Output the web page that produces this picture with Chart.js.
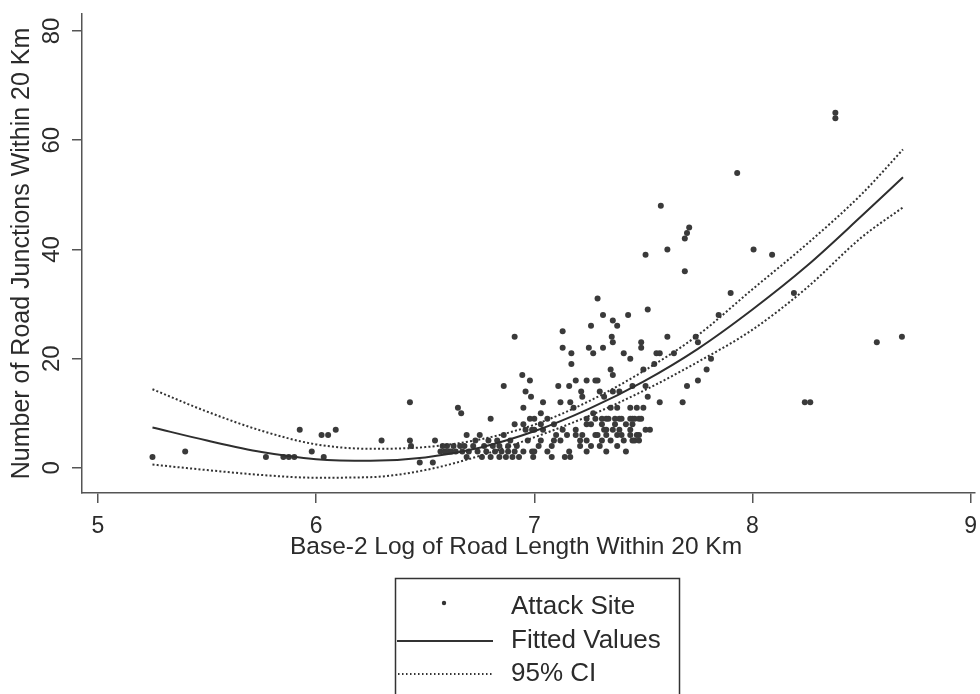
<!DOCTYPE html>
<html>
<head>
<meta charset="utf-8">
<title>Road junctions vs road length</title>
<script src="https://cdn.jsdelivr.net/npm/chart.js@4.4.1/dist/chart.umd.min.js"></script>
<style>
  html, body { margin: 0; padding: 0; background: #fff; }
  #wrap { width: 980px; height: 694px; }
</style>
</head>
<body>
<div id="wrap"><canvas id="junctions-chart" width="980" height="694"></canvas></div>
<script>
const FONT = '"Liberation Sans", Arial, Helvetica, sans-serif';
const INK = '#2b2b2b';

const xTicks = [5, 6, 7, 8, 9];
const yTicks = [0, 20, 40, 60, 80];
const xTitle = 'Base-2 Log of Road Length Within 20 Km';
const yTitle = 'Number of Road Junctions Within 20 Km';

// [log2 road length, junction count]
const attackSites = [
  [5.25, 2], [5.40, 3], [5.77, 2], [5.85, 2], [5.875, 2], [5.90, 2], [5.925, 7], [5.98, 3],
  [6.025, 6], [6.055, 6], [6.09, 7], [6.035, 2], [6.30, 5], [6.43, 12], [6.43, 5], [6.435, 4],
  [6.475, 1], [6.535, 1], [6.545, 5], [6.57, 3], [6.58, 4], [6.59, 3], [6.60, 4], [6.61, 3],
  [6.62, 3], [6.63, 4], [6.64, 3], [6.65, 11], [6.665, 10], [6.66, 4], [6.67, 3], [6.68, 4],
  [6.69, 6], [6.69, 2], [6.70, 3], [6.72, 4], [6.73, 5], [6.75, 6], [6.74, 3],
  [6.76, 2], [6.77, 4], [6.78, 3], [6.79, 5], [6.80, 9], [6.80, 2], [6.81, 4], [6.82, 3],
  [6.83, 5], [6.84, 2], [6.84, 4], [6.85, 3], [6.86, 15], [6.86, 6], [6.87, 2], [6.88, 4],
  [6.88, 3], [6.89, 5], [6.90, 2], [6.91, 24], [6.91, 8], [6.91, 3], [6.92, 4], [6.93, 2],
  [6.945, 17], [6.96, 14], [6.95, 11], [6.95, 8], [6.95, 3], [6.985, 13], [6.96, 7], [6.98, 16],
  [6.97, 5], [6.98, 9], [6.99, 7], [6.99, 3], [6.995, 2],
  [7.00, 9], [7.00, 7], [7.00, 3], [7.02, 4], [7.03, 10], [7.03, 8], [7.03, 5], [7.04, 12],
  [7.04, 7], [7.06, 9], [7.06, 3], [7.08, 4], [7.08, 2], [7.09, 8], [7.09, 5], [7.10, 6],
  [7.11, 15], [7.12, 12], [7.12, 5], [7.13, 25], [7.13, 22], [7.13, 7], [7.14, 2], [7.15, 6],
  [7.16, 15], [7.165, 12], [7.16, 3], [7.165, 2], [7.17, 21], [7.17, 19], [7.18, 11], [7.19, 16],
  [7.19, 7], [7.19, 6], [7.21, 5], [7.21, 4], [7.215, 14], [7.22, 13], [7.22, 6], [7.24, 16],
  [7.24, 9], [7.24, 8], [7.24, 5], [7.24, 3], [7.25, 22],
  [7.26, 26], [7.26, 8], [7.26, 4], [7.27, 21], [7.27, 10], [7.28, 16], [7.28, 9], [7.28, 6],
  [7.29, 31], [7.29, 16], [7.29, 6], [7.30, 14], [7.30, 4], [7.31, 9], [7.31, 8], [7.31, 5],
  [7.315, 28], [7.315, 22], [7.32, 13], [7.32, 7], [7.33, 9], [7.33, 7], [7.33, 6], [7.33, 3],
  [7.34, 9], [7.35, 18], [7.35, 11], [7.35, 5], [7.355, 24], [7.36, 27], [7.36, 23], [7.36, 17],
  [7.36, 14], [7.36, 7], [7.37, 9], [7.37, 8], [7.38, 26], [7.38, 11], [7.38, 6], [7.38, 4],
  [7.39, 14], [7.39, 9], [7.39, 7], [7.40, 9], [7.40, 6], [7.41, 21], [7.41, 5], [7.42, 8],
  [7.42, 3], [7.43, 28], [7.44, 20], [7.44, 11], [7.44, 9], [7.44, 7], [7.44, 6], [7.45, 15],
  [7.45, 9], [7.45, 8], [7.45, 5], [7.46, 9], [7.46, 5], [7.47, 11], [7.47, 6], [7.48, 9],
  [7.48, 6], [7.48, 5], [7.49, 23], [7.49, 22], [7.49, 9], [7.50, 18], [7.50, 11], [7.51, 39],
  [7.51, 15], [7.51, 7], [7.52, 29], [7.52, 13], [7.53, 7], [7.55, 19], [7.575, 12],
  [7.56, 21], [7.575, 21], [7.58, 48], [7.61, 40], [7.61, 24], [7.64, 21], [7.68, 12], [7.69, 36],
  [7.69, 42], [7.70, 43], [7.71, 44], [7.70, 15], [7.74, 24], [7.75, 23], [7.75, 16], [7.79, 18],
  [7.81, 20], [7.845, 28], [7.90, 32], [7.93, 54], [8.005, 40], [8.09, 39], [8.19, 32], [8.24, 12],
  [8.265, 12], [8.38, 64], [8.38, 65], [8.57, 23], [8.685, 24]
];

// quadratic fit and its 95% band, sampled off the drawn curves
const fitX    = [5.25, 5.5, 5.75, 6.0, 6.25, 6.5, 6.75, 7.0, 7.25, 7.5, 7.75, 8.0, 8.25, 8.5, 8.69];
const fitY    = [7.4, 5.0, 2.9, 1.6, 1.3, 1.9, 3.7, 6.7, 10.8, 15.8, 21.8, 29.0, 37.0, 46.1, 53.2];
const ciUpper = [14.4, 10.3, 6.8, 4.3, 3.5, 3.8, 5.2, 7.9, 12.2, 17.7, 24.3, 32.7, 41.0, 50.1, 58.3];
const ciLower = [0.6, -0.4, -1.3, -1.8, -1.7, -0.4, 2.2, 5.6, 9.5, 14.1, 19.4, 25.3, 33.0, 42.2, 47.7];

const legendLabels = ['Attack Site', 'Fitted Values', '95% CI'];

function toPoints(xs, ys) {
  return xs.map((x, i) => ({ x, y: ys[i] }));
}

// Chart.js won't rotate labels on a vertical axis, Stata does.
// The x title is drawn here too since Stata centres it off the plot middle.
const axisText = {
  id: 'axisText',
  afterDraw(chart) {
    const { ctx } = chart;
    const scale = chart.scales.y;
    ctx.save();
    ctx.fillStyle = INK;
    ctx.textAlign = 'center';
    ctx.textBaseline = 'middle';
    ctx.font = `24px ${FONT}`;
    yTicks.forEach((v) => {
      ctx.save();
      ctx.translate(52, scale.getPixelForValue(v));
      ctx.rotate(-Math.PI / 2);
      ctx.fillText(String(v), 0, 0);
      ctx.restore();
    });
    ctx.font = `24.5px ${FONT}`;
    ctx.fillText(xTitle, 516, 547);
    ctx.restore();
  },
};

// boxed legend stacked under the x title
const boxedLegend = {
  id: 'boxedLegend',
  afterDraw(chart) {
    const { ctx } = chart;
    const left = 395.5, right = 679.5, top = 578.5;
    const rows = [607, 641, 674];
    ctx.save();
    ctx.strokeStyle = '#333';
    ctx.lineWidth = 1.5;
    ctx.strokeRect(left, top, right - left, 140);

    ctx.fillStyle = '#333';
    ctx.beginPath();
    ctx.arc(444, rows[0] - 4, 2.2, 0, Math.PI * 2);
    ctx.fill();

    ctx.lineWidth = 2;
    ctx.beginPath();
    ctx.moveTo(397, rows[1]);
    ctx.lineTo(493, rows[1]);
    ctx.stroke();

    ctx.setLineDash([1.5, 2.5]);
    ctx.beginPath();
    ctx.moveTo(398, rows[2]);
    ctx.lineTo(493, rows[2]);
    ctx.stroke();
    ctx.setLineDash([]);

    ctx.font = `26px ${FONT}`;
    ctx.fillStyle = INK;
    ctx.textAlign = 'left';
    ctx.textBaseline = 'middle';
    legendLabels.forEach((txt, i) => ctx.fillText(txt, 511, rows[i]));
    ctx.restore();
  },
};

const ctx = document.getElementById('junctions-chart').getContext('2d');

new Chart(ctx, {
  type: 'scatter',
  data: {
    datasets: [
      {
        label: 'Fitted Values',
        data: toPoints(fitX, fitY),
        showLine: true,
        borderColor: '#2e2e2e',
        borderWidth: 2,
        pointRadius: 0,
        cubicInterpolationMode: 'monotone',
      },
      {
        label: '95% CI',
        data: toPoints(fitX, ciUpper),
        showLine: true,
        borderColor: '#333',
        borderWidth: 2,
        borderDash: [2, 2.2],
        pointRadius: 0,
        cubicInterpolationMode: 'monotone',
      },
      {
        label: '95% CI lower',
        data: toPoints(fitX, ciLower),
        showLine: true,
        borderColor: '#333',
        borderWidth: 2,
        borderDash: [2, 2.2],
        pointRadius: 0,
        cubicInterpolationMode: 'monotone',
      },
      {
        label: 'Attack Site',
        data: attackSites.map(([x, y]) => ({ x, y })),
        pointRadius: 3,
        pointBackgroundColor: '#3a3a3a',
        pointBorderWidth: 0,
      },
    ],
  },
  options: {
    responsive: false,
    animation: false,
    events: [],
    layout: { padding: { left: 0, right: 5, top: 14, bottom: 131 } },
    plugins: {
      legend: { display: false },
      tooltip: { enabled: false },
    },
    scales: {
      x: {
        type: 'linear',
        min: 4.927,
        max: 9.02,
        afterBuildTicks: (scale) => { scale.ticks = xTicks.map((v) => ({ value: v })); },
        afterFit: (scale) => { scale.height = 70; scale.paddingLeft = 0; scale.paddingRight = 0; },
        grid: { drawOnChartArea: false, drawTicks: true, tickLength: 10, color: '#555', lineWidth: 1.5 },
        border: { color: '#555', width: 1.5 },
        ticks: { color: INK, font: { family: FONT, size: 23 }, padding: 10, maxRotation: 0 },
      },
      y: {
        type: 'linear',
        min: -4.6,
        max: 83.1,
        afterBuildTicks: (scale) => { scale.ticks = yTicks.map((v) => ({ value: v })); },
        afterFit: (scale) => { scale.width = 82; scale.paddingTop = 0; scale.paddingBottom = 0; },
        grid: { drawOnChartArea: false, drawTicks: true, tickLength: 10, color: '#555', lineWidth: 1.5 },
        border: { color: '#555', width: 1.5 },
        ticks: { display: false },
        title: {
          display: true,
          text: yTitle,
          color: INK,
          font: { family: FONT, size: 25 },
          padding: { top: 7, bottom: 0 },
        },
      },
    },
  },
  plugins: [axisText, boxedLegend],
});
</script>
</body>
</html>
